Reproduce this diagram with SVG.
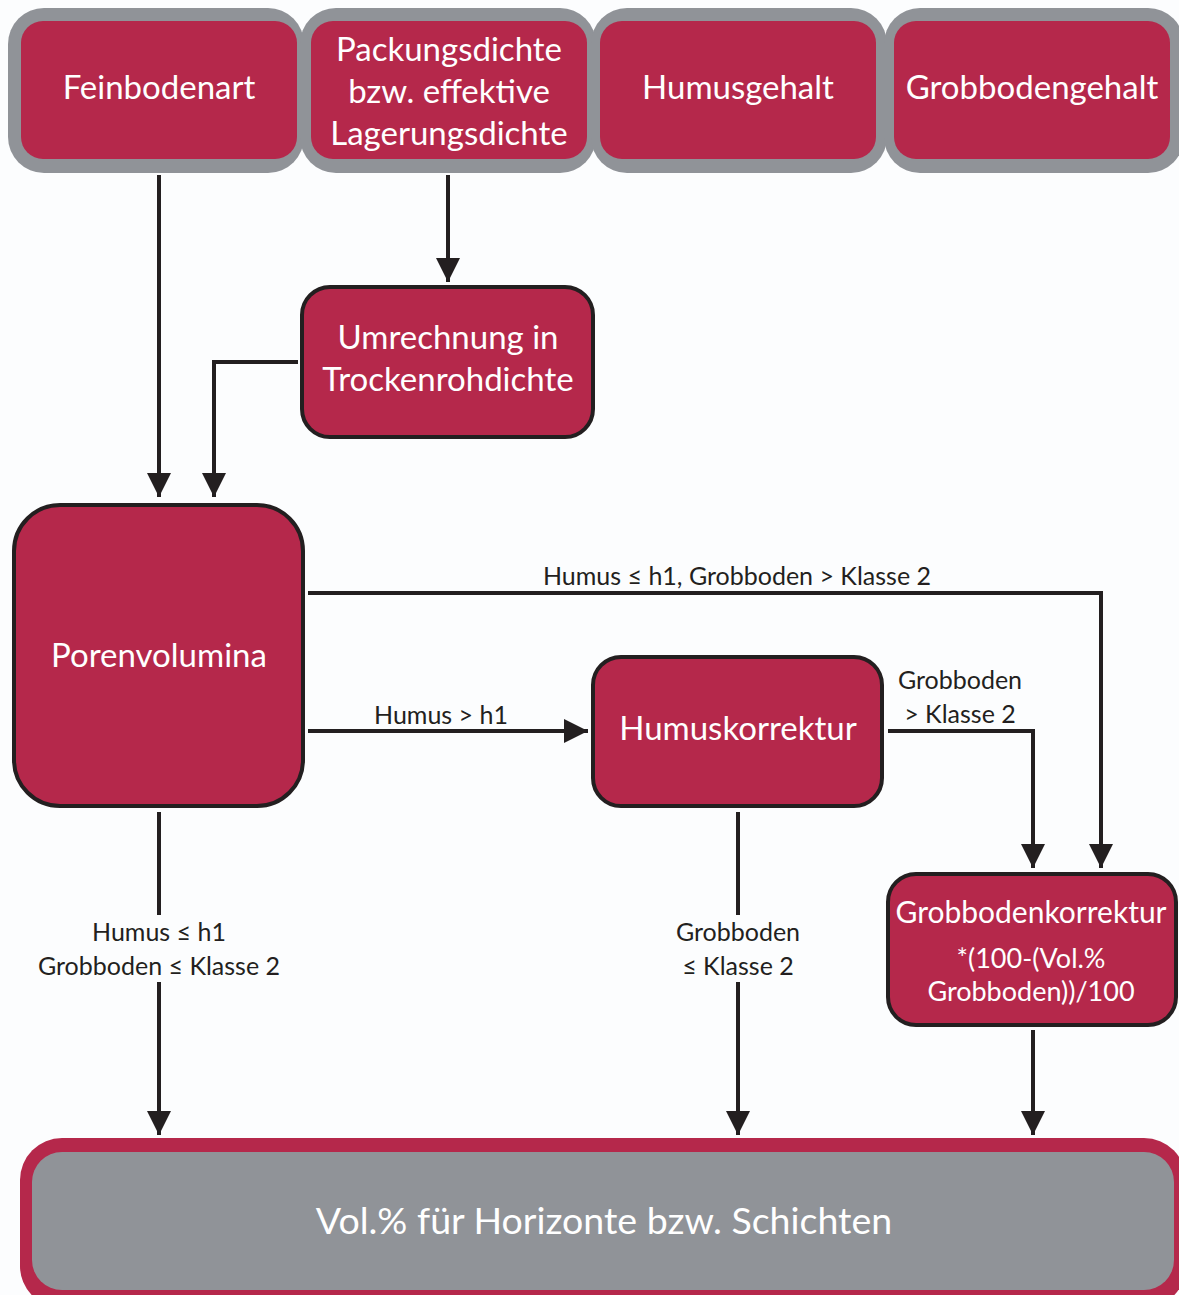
<svg xmlns="http://www.w3.org/2000/svg" width="1179" height="1295" viewBox="0 0 1179 1295">
<defs>
<style>
.bg{fill:#fcfdfe}
.outer{fill:#909398}
.inner{fill:#b5284b}
.node{fill:#b5284b;stroke:#231f20;stroke-width:4}
.t{font-family:Lato,"Liberation Sans",sans-serif;fill:#ffffff;text-anchor:middle}
.big{font-size:33px}
.lbl{font-family:Lato,"Liberation Sans",sans-serif;fill:#231f20;text-anchor:middle;font-size:25px}
.ln{fill:none;stroke:#231f20;stroke-width:4}
</style>
<marker id="ah" viewBox="0 0 10 10" refX="10" refY="5" markerWidth="6" markerHeight="6" markerUnits="strokeWidth" orient="auto">
<path d="M0,0 L10,5 L0,10 Z" fill="#231f20"/>
</marker>
</defs>
<rect class="bg" x="0" y="0" width="1179" height="1295"/>

<g id="feinbodenart">
<rect class="outer" x="8" y="8" width="296" height="165" rx="36"/>
<rect class="inner" x="21" y="21" width="276" height="138" rx="22"/>
<text class="t big" x="159" y="99">Feinbodenart</text>
</g>
<g id="packungsdichte">
<rect class="outer" x="300" y="8" width="296" height="165" rx="36"/>
<rect class="inner" x="311" y="21" width="276" height="138" rx="22"/>
<text class="t big" x="449" y="61">Packungsdichte</text>
<text class="t big" x="449" y="103">bzw. effektive</text>
<text class="t big" x="449" y="145">Lagerungsdichte</text>
</g>
<g id="humusgehalt">
<rect class="outer" x="591" y="8" width="296" height="165" rx="36"/>
<rect class="inner" x="600" y="21" width="276" height="138" rx="22"/>
<text class="t big" x="738" y="99">Humusgehalt</text>
</g>
<g id="grobbodengehalt">
<rect class="outer" x="884" y="8" width="300" height="165" rx="36"/>
<rect class="inner" x="894" y="21" width="276" height="138" rx="22"/>
<text class="t big" x="1032" y="99">Grobbodengehalt</text>
</g>

<g id="umrechnung">
<rect class="node" x="302" y="287" width="291" height="150" rx="28"/>
<text class="t big" x="448" y="349">Umrechnung in</text>
<text class="t big" x="448" y="391">Trockenrohdichte</text>
</g>

<g id="porenvolumina">
<rect class="node" x="14" y="505" width="289" height="301" rx="46"/>
<text class="t big" x="159" y="667">Porenvolumina</text>
</g>

<g id="humuskorrektur">
<rect class="node" x="593" y="657" width="289" height="149" rx="28"/>
<text class="t big" x="738" y="740">Humuskorrektur</text>
</g>

<g id="grobbodenkorrektur">
<rect class="node" x="888" y="874" width="288" height="151" rx="28"/>
<text class="t" font-size="30" x="1031" y="923">Grobbodenkorrektur</text>
<text class="t" font-size="27" x="1031" y="968">*(100-(Vol.%</text>
<text class="t" font-size="27" x="1031" y="1001">Grobboden))/100</text>
</g>

<g id="ergebnis">
<rect class="inner" x="20" y="1138" width="1166" height="170" rx="42"/>
<rect class="outer" x="32" y="1152" width="1142" height="138" rx="30"/>
<text class="t" font-size="37.5" x="604" y="1234">Vol.% für Horizonte bzw. Schichten</text>
</g>

<g id="connectors">
<path class="ln" d="M159,175 V497" marker-end="url(#ah)"/>
<path class="ln" d="M448,175 V282" marker-end="url(#ah)"/>
<path class="ln" d="M298,362 H214 V497" marker-end="url(#ah)"/>
<path class="ln" d="M308,593 H1101 V868" marker-end="url(#ah)"/>
<path class="ln" d="M308,731 H588" marker-end="url(#ah)"/>
<path class="ln" d="M888,731 H1033 V868" marker-end="url(#ah)"/>
<path class="ln" d="M1033,1030 V1135" marker-end="url(#ah)"/>
<path class="ln" d="M159,812 V915"/>
<path class="ln" d="M159,982 V1135" marker-end="url(#ah)"/>
<path class="ln" d="M738,812 V915"/>
<path class="ln" d="M738,982 V1135" marker-end="url(#ah)"/>
<text class="lbl" x="737" y="585">Humus ≤ h1, Grobboden &gt; Klasse 2</text>
<text class="lbl" x="441" y="724">Humus &gt; h1</text>
<text class="lbl" x="960" y="689">Grobboden</text>
<text class="lbl" x="960" y="723">&gt; Klasse 2</text>
<text class="lbl" x="159" y="941">Humus ≤ h1</text>
<text class="lbl" x="159" y="975">Grobboden ≤ Klasse 2</text>
<text class="lbl" x="738" y="941">Grobboden</text>
<text class="lbl" x="738" y="975">≤ Klasse 2</text>
</g>
</svg>
